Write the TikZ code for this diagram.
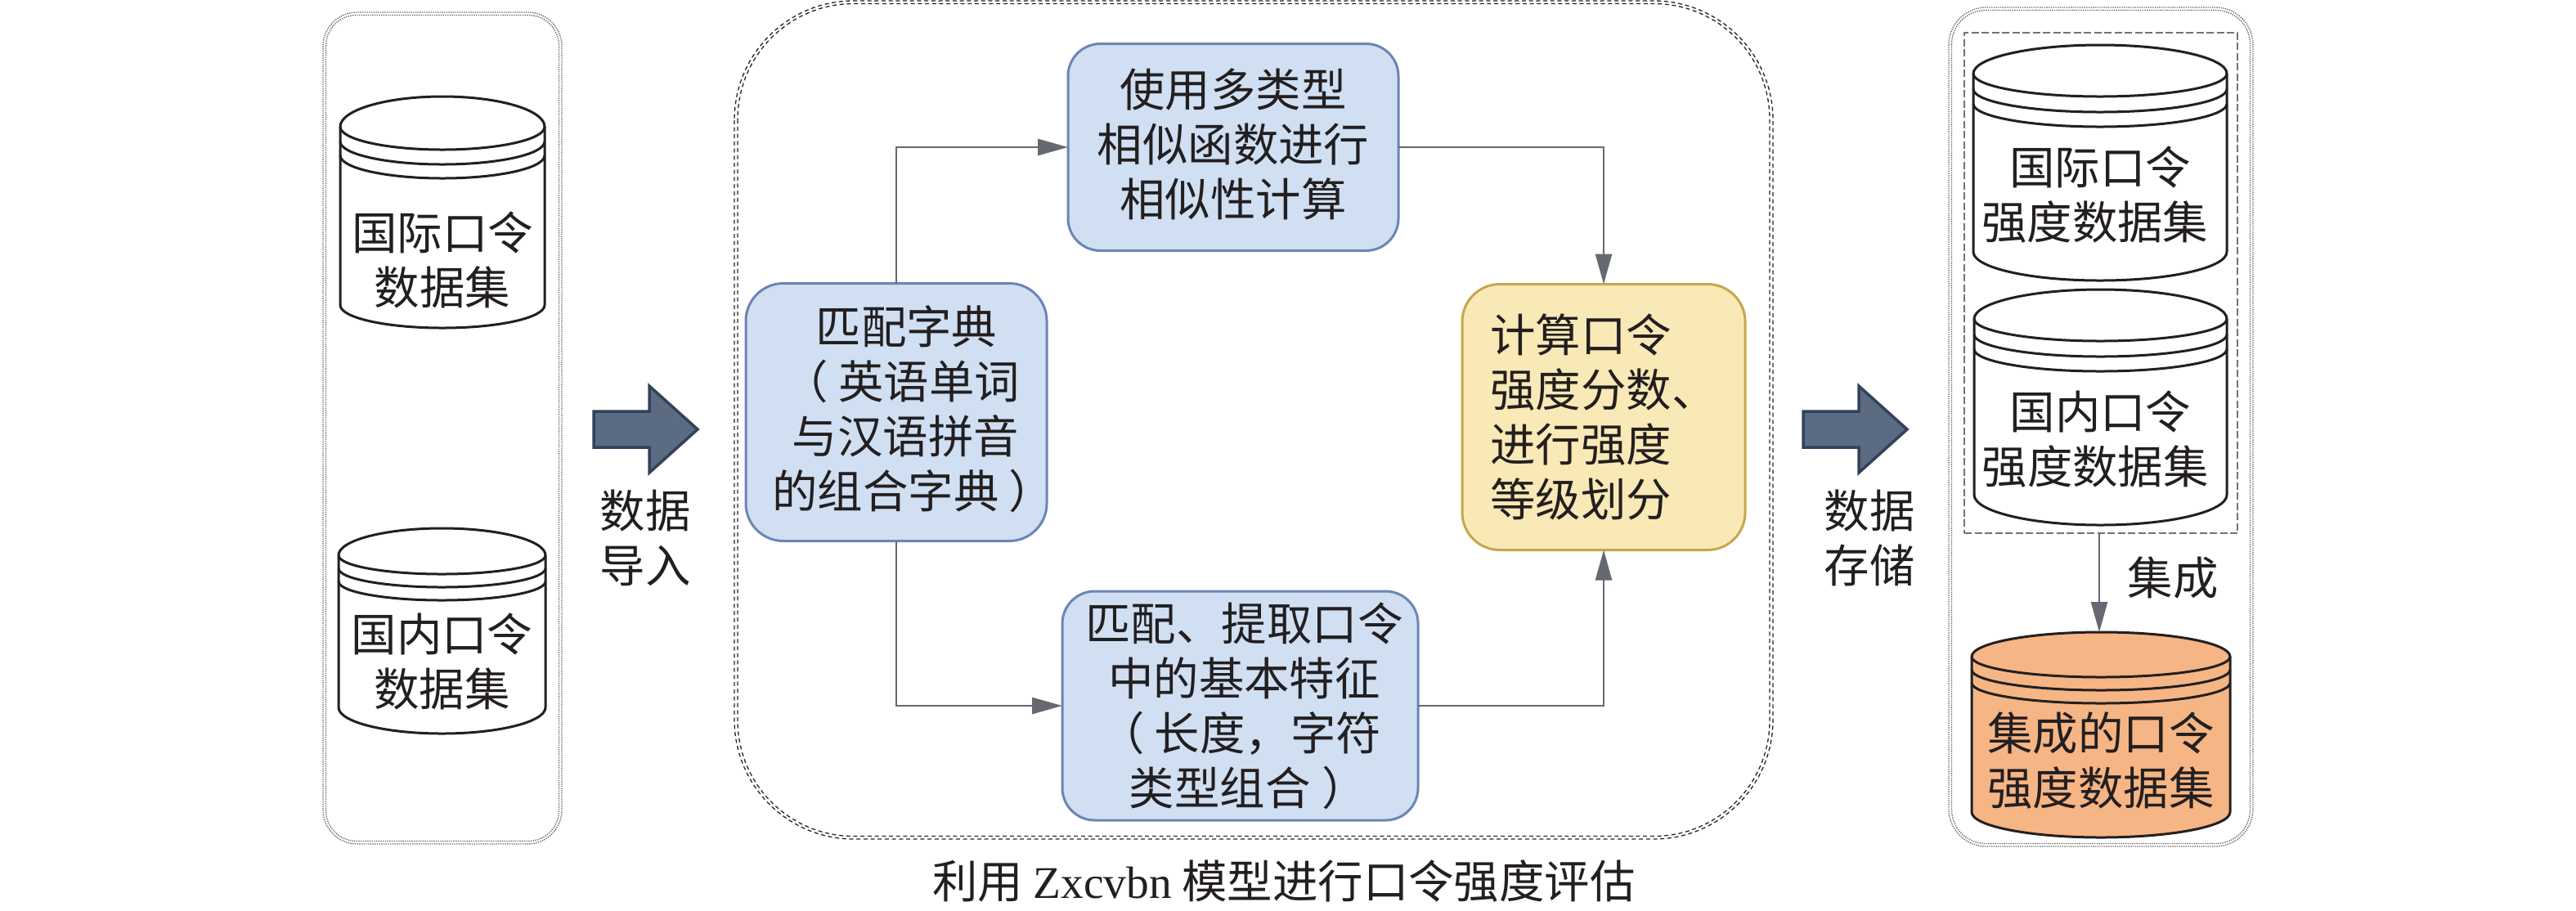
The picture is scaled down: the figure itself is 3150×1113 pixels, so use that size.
\documentclass[tikz,border=0pt]{standalone}
\usepackage{fontspec}
\setmainfont{Noto Sans CJK SC}
\newfontfamily\latinfont{Liberation Serif}
\usetikzlibrary{arrows.meta}
\definecolor{bluefill}{HTML}{D0DFF2}
\definecolor{bluedraw}{HTML}{6C85B5}
\definecolor{yellowfill}{HTML}{F9E9B6}
\definecolor{yellowdraw}{HTML}{C6A64E}
\definecolor{orangefill}{HTML}{F6B585}
\definecolor{bigfill}{HTML}{5B6C82}
\definecolor{bigdraw}{HTML}{33425A}
\definecolor{linkcol}{HTML}{666972}
\definecolor{inkcol}{HTML}{231F20}
\newcommand{\pxu}{0.24pt}
\newcommand{\upby}[1]{\rule[-#1]{0pt}{0pt}}
\tikzset{
  x=0.24pt,y=-0.24pt,
  every node/.style={inner sep=0pt,outer sep=0pt,text=inkcol},
  lbl/.style={align=center,font=\fontsize{13.3}{16.1}\selectfont},
  stepbox/.style={lbl,rounded corners=9.5pt,line width=3*\pxu,draw=bluedraw,fill=bluefill},
  calcbox/.style={stepbox,rounded corners=11pt,draw=yellowdraw,fill=yellowfill},
  frameline/.style={line width=1.3*\pxu,draw=gray!80!black,dash pattern=on 1.4*\pxu off 1.3*\pxu},
  midframe/.style={line width=1.3*\pxu,draw=black!85,dash pattern=on 5*\pxu off 3.7*\pxu},
  dashbox/.style={draw=gray!90!black,line width=1.6*\pxu,dash pattern=on 9*\pxu off 3.5*\pxu},
  link/.style={draw=linkcol,line width=2.7*\pxu,-{Triangle[length=37*\pxu,width=20*\pxu]}},
  cylline/.style={draw=inkcol,line width=3*\pxu},
  bigarrow/.style={fill=bigfill,draw=bigdraw,line width=3.5*\pxu,miter limit=10}
}
% name, xl, xr, top, sidetop, ellipse bottom, line1, line2, sideend, bottom, fill, text y, text
\newcommand{\cylinder}[9]{%
  \def\cname{#1}\def\cxl{#2}\def\cxr{#3}\def\ctop{#4}\def\cst{#5}\def\ceb{#6}\def\cla{#7}\def\clb{#8}\def\cse{#9}\cylrest}
\newcommand{\cylrest}[4]{%
  \pgfmathsetmacro{\cxm}{(\cxl+\cxr)/2}\pgfmathsetmacro{\crx}{(\cxr-\cxl)/2*0.24}
  \pgfmathsetmacro{\cry}{(\cst-\ctop)*0.24}\pgfmathsetmacro{\crb}{(#1-\cse)*0.24}
  \pgfmathsetmacro{\dre}{(\ceb-\cst)*0.24}
  \path[fill=#2,cylline] (\cxl,\cst) arc[start angle=180,end angle=0,x radius=\crx pt,y radius=\cry pt]
    -- (\cxr,\cse) arc[start angle=0,end angle=-180,x radius=\crx pt,y radius=\crb pt] -- cycle;
  \path[cylline] (\cxl,\cst) arc[start angle=180,end angle=360,x radius=\crx pt,y radius=\dre pt];
  \path[cylline] (\cxl,\cst+\cla-\ceb) arc[start angle=180,end angle=360,x radius=\crx pt,y radius=\dre pt];
  \path[cylline] (\cxl,\cst+\clb-\ceb) arc[start angle=180,end angle=360,x radius=\crx pt,y radius=\dre pt];
  \node[lbl] (\cname) at (\cxm,#3) {#4};
}
\begin{document}
\begin{tikzpicture}
\useasboundingbox (0,0) rectangle (3150,1113);
\fill[white] (0,0) rectangle (3150,1113);
% frames
\draw[frameline,rounded corners=10pt] (395,15) rectangle (687,1032);
\draw[frameline,rounded corners=9pt] (398.5,18.5) rectangle (683.5,1028.5);
\draw[midframe,rounded corners=35pt] (898,1) rectangle (2168,1026);
\draw[midframe,rounded corners=34pt] (902,4.5) rectangle (2164,1022.5);
\draw[frameline,rounded corners=11pt] (2383,9) rectangle (2755,1035);
\draw[frameline,rounded corners=10pt] (2386.5,12.5) rectangle (2751.5,1031.5);
% cylinders
\cylinder{ca}{416}{666}{118}{155}{183}{201}{218}{373}{401}{white}{318}{国际口令\\数据集}
\cylinder{cb}{414}{667}{646}{679}{702}{718}{734}{865}{897}{white}{809}{国内口令\\数据集}
\cylinder{cc}{2413}{2723}{55}{90}{118}{137}{155}{308}{343}{white}{238}{国际口令\\\hspace*{-3pt}强度数据集}
\cylinder{cd}{2414}{2723}{354}{390}{417}{436}{454}{605}{642}{white}{537}{国内口令\\\hspace*{-3pt}强度数据集}
\cylinder{ce}{2411}{2727}{773}{803}{828}{844}{860}{993}{1024}{orangefill}{930}{集成的口令\\强度数据集}
\coordinate (cetop) at (2567,773);
\node[minimum width=334*\pxu,minimum height=612*\pxu,dashbox] (group) at (2569,346) {};
% big arrows
\path[bigarrow] (726,503) -- (794,503) -- (794,472) -- (853,525) -- (794,578) -- (794,547) -- (726,547) -- cycle;
\path[bigarrow] (2205,503) -- (2273,503) -- (2273,472) -- (2332,525) -- (2273,578) -- (2273,547) -- (2205,547) -- cycle;
\node[lbl] (imp) at (789,658) {数据\\导入};
\node[lbl] (sto) at (2286,658) {数据\\存储};
% boxes
\node[stepbox,rounded corners=11pt,minimum width=368*\pxu,minimum height=315*\pxu] (dict) at (1096,504)
  {\hspace*{6pt}匹配字典\\\hspace*{3pt}（\kern3pt 英语单词\\\hspace*{5.5pt}与汉语拼音\\的组合字典\kern3pt）\kern-10pt\upby{3pt}};
\node[stepbox,minimum width=404*\pxu,minimum height=253*\pxu] (sim) at (1508,180)
  {使用多类型\\相似函数进行\\相似性计算\upby{3pt}};
\node[stepbox,minimum width=435*\pxu,minimum height=280*\pxu] (feat) at (1516.5,863)
  {\hspace*{2.4pt}匹配、提取口令\\\hspace*{2.4pt}中的基本特征\\（\kern3pt 长度，字符\\\hspace*{4.8pt}类型组合\kern3.4pt）};
\node[calcbox,minimum width=346*\pxu,minimum height=325*\pxu,align=left] (calc) at (1961,510)
  {计算口令\\强度分数、\\进行强度\\等级划分\upby{1pt}};
% connectors
\draw[link] (dict.north -| 1096,0) |- (sim.west);
\draw[link] (dict.south -| 1096,0) |- (feat.west);
\draw[link] (sim.east) -| (calc.north);
\draw[link] (feat.east) -| (calc.south);
\draw[link] (group.south -| cetop) -- (cetop);
\node[lbl] (jc) at (2657,707) {集成};
\node[lbl] (cap) at (1570,1077) {利用 {\latinfont Zxcvbn} 模型进行口令强度评估};
\end{tikzpicture}
\end{document}
